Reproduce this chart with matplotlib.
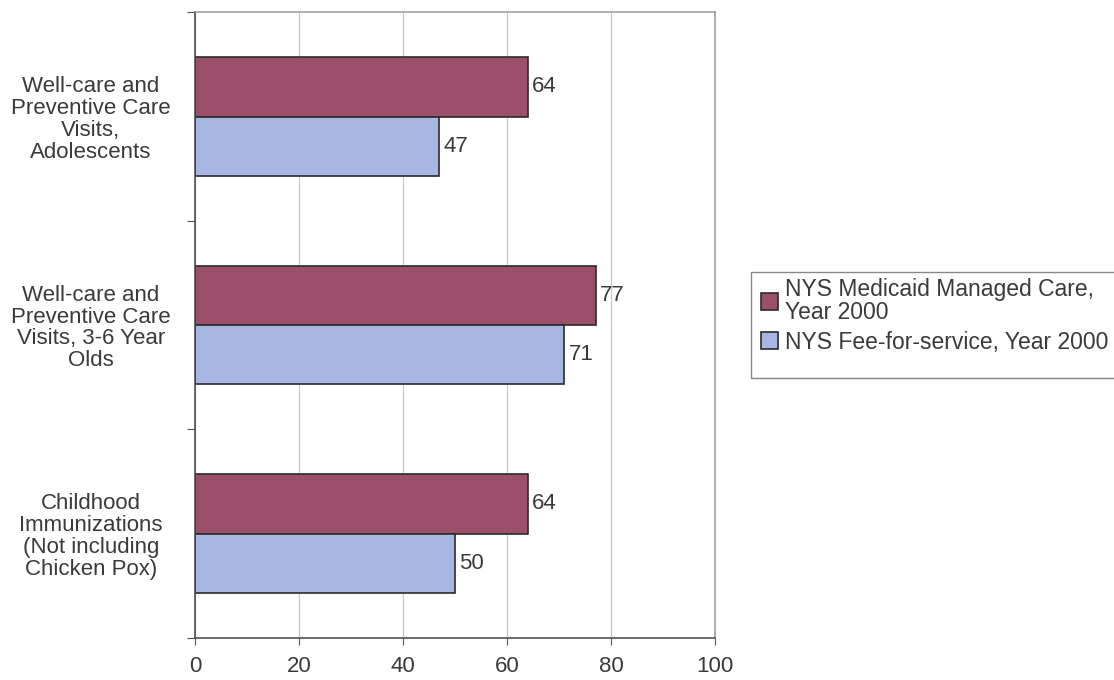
import matplotlib.pyplot as plt
from matplotlib.patches import Rectangle
import numpy as np

plt.rcParams['font.family'] = ['Liberation Sans', 'DejaVu Sans']

categories = ["Well-care and\nPreventive Care\nVisits,\nAdolescents",
              "Well-care and\nPreventive Care\nVisits, 3-6 Year\nOlds",
              "Childhood\nImmunizations\n(Not including\nChicken Pox)"]
managed_care = [64, 77, 64]
fee_for_service = [47, 71, 50]
series_labels = ["NYS Medicaid Managed Care,\nYear 2000", "NYS Fee-for-service, Year 2000"]
xticks = [0, 20, 40, 60, 80, 100]

red = "#9c4f6a"
blue = "#a8b6e4"
text_col = "#3a3a3a"
fs = 16

fig = plt.figure(figsize=(11.14, 6.8), dpi=100)
ax = fig.add_axes([0.175, 0.062, 0.467, 0.920])

y = np.arange(len(categories))[::-1].astype(float)
h = 0.285
b1 = ax.barh(y + h / 2, managed_care, height=h, color=red, edgecolor="#2b2b2b", linewidth=1.2,
             label=series_labels[0])
b2 = ax.barh(y - h / 2, fee_for_service, height=h, color=blue, edgecolor="#2b2b2b", linewidth=1.2,
             label=series_labels[1])

for bars, vals in ((b1, managed_care), (b2, fee_for_service)):
    for bar, v in zip(bars, vals):
        ax.text(bar.get_width() + 0.8, bar.get_y() + bar.get_height() / 2, str(v),
                va="center", ha="left", fontsize=fs, color=text_col)

ax.set_xlim(0, 100)
ax.set_ylim(-0.5, 2.5)
ax.set_xticks(xticks)
ax.set_xticklabels([str(t) for t in xticks], fontsize=fs, color=text_col)
ax.tick_params(axis="x", length=5, color="#555555", pad=8)

# ticks at category boundaries, labels in the middle
ax.set_yticks([-0.5, 0.5, 1.5, 2.5])
ax.set_yticklabels([])
ax.set_yticks(y, minor=True)
ax.set_yticklabels(categories, minor=True, fontsize=fs, color=text_col, ha="center",
                   multialignment="center", linespacing=1.05)
ax.tick_params(axis="y", which="minor", length=0, pad=75)
ax.tick_params(axis="y", which="major", length=6, color="#555555")

ax.grid(True, axis="x", color="#c8c8c8", linewidth=0.9)
ax.set_axisbelow(True)
for side in ("left", "bottom"):
    ax.spines[side].set_color("#444444")
    ax.spines[side].set_linewidth(1.1)
for side in ("top", "right"):
    ax.spines[side].set_color("#999999")
    ax.spines[side].set_linewidth(1.1)

# legend box runs off the right edge of the page in the original
fig.patches.append(Rectangle((0.674, 0.444), 0.35, 0.156, transform=fig.transFigure,
                             fill=False, edgecolor="#888888", linewidth=1.0))
leg = fig.legend(loc="upper left", bbox_to_anchor=(0.675, 0.605), borderaxespad=0,
                 fontsize=16.5, handlelength=0.75, handleheight=0.75, handletextpad=0.3,
                 borderpad=0.4, labelspacing=0.3, frameon=False, labelcolor=text_col)
for t in leg.get_texts():
    t.set_linespacing(1.0)

fig.savefig("out.png", dpi=100)
